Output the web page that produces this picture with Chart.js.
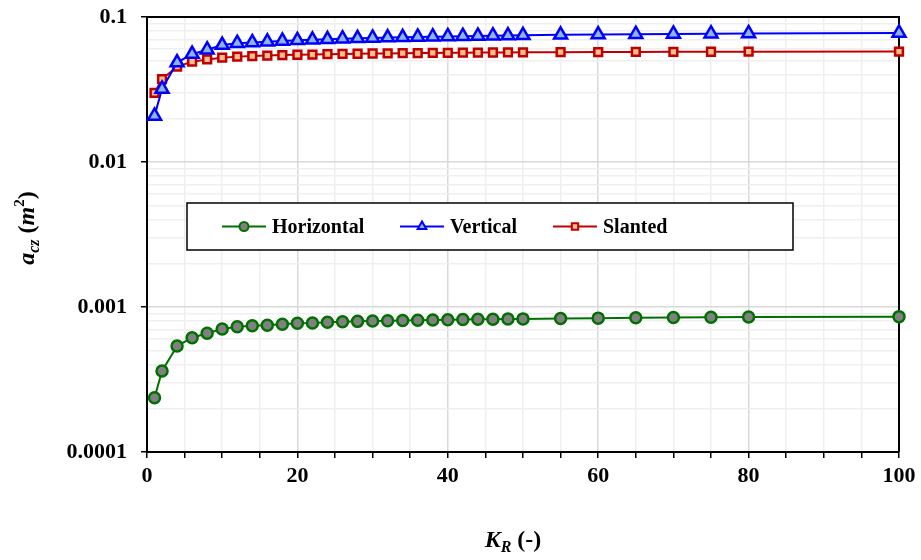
<!DOCTYPE html>
<html>
<head>
<meta charset="utf-8">
<script src="https://cdn.jsdelivr.net/npm/chart.js@4"></script>
<style>
  html, body { margin: 0; padding: 0; background: #fff; }
  canvas { display: block; }
</style>
</head>
<body>
<canvas id="myChart" width="921" height="560"></canvas>
<script>
// K_R values (x axis)
var kr = [1, 2, 4, 6, 8, 10, 12, 14, 16, 18, 20, 22, 24, 26, 28, 30, 32, 34, 36, 38, 40, 42, 44, 46, 48, 50, 55, 60, 65, 70, 75, 80, 100];

// a_cz (m2) for each orientation
var horizontal = [0.000237, 0.000362, 0.000538, 0.000614, 0.000659, 0.000705, 0.000731, 0.000743, 0.000748, 0.00076, 0.000772, 0.000775, 0.000784, 0.00079, 0.000796, 0.0008, 0.000804, 0.000808, 0.000811, 0.000814, 0.000816, 0.000819, 0.000822, 0.000824, 0.000826, 0.000828, 0.000833, 0.000838, 0.000842, 0.000846, 0.000849, 0.000852, 0.000858];
var vertical = [0.0208, 0.0319, 0.0485, 0.0555, 0.0595, 0.064, 0.066, 0.0668, 0.0676, 0.0684, 0.069, 0.0696, 0.0702, 0.0708, 0.0713, 0.0717, 0.0721, 0.0725, 0.0729, 0.0732, 0.0735, 0.0738, 0.0741, 0.0743, 0.0745, 0.0748, 0.0753, 0.0757, 0.0761, 0.0764, 0.0767, 0.077, 0.0777];
var slanted = [0.0300, 0.0373, 0.0454, 0.0492, 0.051, 0.0524, 0.0533, 0.0538, 0.0542, 0.0546, 0.0549, 0.0551, 0.0554, 0.0556, 0.0558, 0.056, 0.0561, 0.0563, 0.0564, 0.0565, 0.0566, 0.0567, 0.0568, 0.0569, 0.057, 0.0571, 0.0572, 0.0573, 0.0574, 0.0575, 0.0576, 0.0577, 0.0578];

var seriesNames = ['Horizontal', 'Vertical', 'Slanted'];

// tick labels
var yDecades = [0.0001, 0.001, 0.01, 0.1];
var yTickLabels = ['0.0001', '0.001', '0.01', '0.1'];
var xTickValues = [0, 20, 40, 60, 80, 100];
var xTickLabels = ['0', '20', '40', '60', '80', '100'];

var SERIF = '"Liberation Serif", "Times New Roman", serif';

function pts(ys) {
    return kr.map(function (x, i) { return { x: x, y: ys[i] }; });
}

function isDecade(v) {
    return yDecades.some(function (d) { return Math.abs(v - d) / d < 1e-6; });
}

// all 1..9 x 10^n values for the log grid
var yGridValues = [];
yDecades.forEach(function (d, i) {
    if (i === yDecades.length - 1) { yGridValues.push(d); return; }
    for (var k = 1; k <= 9; k++) yGridValues.push(+(d * k).toPrecision(6));
});

var frame = {
    id: 'frame',
    beforeDatasetsDraw: function (chart) {
        var a = chart.chartArea, ctx = chart.ctx;
        ctx.save();
        ctx.strokeStyle = '#000';
        ctx.lineWidth = 2;
        ctx.beginPath();
        ctx.moveTo(a.left, a.top);
        ctx.lineTo(a.right, a.top);
        ctx.lineTo(a.right, a.bottom);
        ctx.stroke();
        ctx.restore();
    }
};

function drawMarker(ctx, ds, x, y, r) {
    Chart.helpers.drawPoint(ctx, {
        pointStyle: ds.pointStyle, rotation: 0, radius: r, borderWidth: 2
    }, x, y);
}

var boxLegend = {
    id: 'boxLegend',
    afterDraw: function (chart) {
        var ctx = chart.ctx;
        var bx = 187, by = 203, bw = 606, bh = 47;
        var items = [222, 400, 553];
        ctx.save();
        ctx.fillStyle = '#fff';
        ctx.fillRect(bx, by, bw, bh);
        ctx.strokeStyle = '#000';
        ctx.lineWidth = 1.5;
        ctx.strokeRect(bx, by, bw, bh);
        var cy = by + bh / 2;
        chart.data.datasets.forEach(function (ds, i) {
            var x0 = items[i];
            ctx.strokeStyle = ds.borderColor;
            ctx.lineWidth = 2;
            ctx.beginPath();
            ctx.moveTo(x0, cy);
            ctx.lineTo(x0 + 44, cy);
            ctx.stroke();
            ctx.fillStyle = ds.pointBackgroundColor;
            ctx.strokeStyle = ds.pointBorderColor;
            ctx.lineWidth = 2;
            drawMarker(ctx, ds, x0 + 22, cy, ds.pointStyle === 'triangle' ? 5 : 4.5);
            ctx.fillStyle = '#000';
            ctx.font = 'bold 20px ' + SERIF;
            ctx.textBaseline = 'middle';
            ctx.textAlign = 'left';
            ctx.fillText(ds.label, x0 + 50, cy + 1);
        });
        ctx.restore();
    }
};

function drawRuns(ctx, runs) {
    var x = 0;
    runs.forEach(function (r) {
        ctx.font = r.f;
        ctx.fillText(r.t, x, r.dy || 0);
        x += ctx.measureText(r.t).width;
    });
}
function runsWidth(ctx, runs) {
    var w = 0;
    runs.forEach(function (r) { ctx.font = r.f; w += ctx.measureText(r.t).width; });
    return w;
}

var axisTitles = {
    id: 'axisTitles',
    afterDraw: function (chart) {
        var ctx = chart.ctx;
        var bi = 'bold italic 24px ' + SERIF, b = 'bold 24px ' + SERIF;
        var biS = 'bold italic 16px ' + SERIF, bS = 'bold 15px ' + SERIF;
        ctx.save();
        ctx.fillStyle = '#000';
        ctx.textBaseline = 'alphabetic';
        ctx.textAlign = 'left';

        var xr = [{ t: 'K', f: bi }, { t: 'R', f: biS, dy: 5 }, { t: ' (-)', f: b }];
        var wx = runsWidth(ctx, xr);
        ctx.save();
        ctx.translate(513 - wx / 2, 547);
        drawRuns(ctx, xr);
        ctx.restore();

        var yr = [{ t: 'a', f: bi }, { t: 'cz', f: biS, dy: 5 }, { t: ' (', f: b }, { t: 'm', f: bi }, { t: '2', f: bS, dy: -10 }, { t: ')', f: b }];
        var wy = runsWidth(ctx, yr);
        ctx.save();
        ctx.translate(34, 228 + wy / 2);
        ctx.rotate(-Math.PI / 2);
        drawRuns(ctx, yr);
        ctx.restore();
        ctx.restore();
    }
};

window.onload = function () {
    var ctx = document.getElementById('myChart').getContext('2d');

    var Data = {
        datasets: [
            {
                label: seriesNames[0],
                data: pts(horizontal),
                borderColor: '#007000',
                borderWidth: 2,
                pointStyle: 'circle',
                pointRadius: 5.5,
                pointBackgroundColor: '#808080',
                pointBorderColor: '#007000',
                pointBorderWidth: 2.5
            },
            {
                label: seriesNames[1],
                data: pts(vertical),
                borderColor: '#0000ff',
                borderWidth: 2,
                pointStyle: 'triangle',
                pointRadius: 7.5,
                pointBackgroundColor: '#8eb4e3',
                pointBorderColor: '#0000ff',
                pointBorderWidth: 2.5
            },
            {
                label: seriesNames[2],
                data: pts(slanted),
                borderColor: '#c00000',
                borderWidth: 2,
                pointStyle: 'rect',
                pointRadius: 5.5,
                pointBackgroundColor: '#fabf8f',
                pointBorderColor: '#c00000',
                pointBorderWidth: 2.5
            }
        ]
    };

    window.myChart = new Chart(ctx, {
        type: 'line',
        data: Data,
        plugins: [frame, boxLegend, axisTitles],
        options: {
            responsive: false,
            animation: false,
            devicePixelRatio: 1,
            clip: false,
            layout: { padding: { top: 17, right: 22, left: 0, bottom: 0 } },
            elements: { line: { tension: 0 } },
            plugins: {
                legend: { display: false },
                tooltip: { enabled: false }
            },
            scales: {
                x: {
                    type: 'linear',
                    min: 0,
                    max: 100,
                    afterBuildTicks: function (scale) {
                        var t = [];
                        for (var v = 0; v <= 100; v += 5) t.push({ value: v });
                        scale.ticks = t;
                    },
                    afterFit: function (scale) {
                        scale.height = 108;
                        scale.paddingLeft = 0;
                        scale.paddingRight = 0;
                    },
                    ticks: {
                        autoSkip: false,
                        maxRotation: 0,
                        padding: 5,
                        color: '#000',
                        font: { family: SERIF, size: 22, weight: 'bold' },
                        callback: function (v) {
                            var i = xTickValues.indexOf(v);
                            return i >= 0 ? xTickLabels[i] : '';
                        }
                    },
                    grid: {
                        color: function (c) { return c.tick && c.tick.value % 20 === 0 ? '#d9d9d9' : '#efefef'; },
                        lineWidth: 1.5,
                        tickColor: '#000',
                        tickLength: 6,
                        tickWidth: 1.5
                    },
                    border: { color: '#000', width: 2 }
                },
                y: {
                    type: 'logarithmic',
                    min: 0.0001,
                    max: 0.1,
                    afterBuildTicks: function (scale) {
                        scale.ticks = yGridValues.map(function (v) { return { value: v }; });
                    },
                    afterFit: function (scale) {
                        scale.width = 147;
                        scale.paddingTop = 0;
                        scale.paddingBottom = 0;
                    },
                    ticks: {
                        autoSkip: false,
                        padding: 14,
                        color: '#000',
                        font: { family: SERIF, size: 22, weight: 'bold' },
                        callback: function (v) {
                            for (var i = 0; i < yDecades.length; i++) {
                                if (Math.abs(v - yDecades[i]) / yDecades[i] < 1e-6) return yTickLabels[i];
                            }
                            return '';
                        }
                    },
                    grid: {
                        color: function (c) { return c.tick && isDecade(c.tick.value) ? '#d9d9d9' : '#efefef'; },
                        lineWidth: 1.5,
                        tickColor: function (c) { return c.tick && isDecade(c.tick.value) ? '#000' : 'rgba(0,0,0,0)'; },
                        tickLength: 6,
                        tickWidth: 1.5
                    },
                    border: { color: '#000', width: 2 }
                }
            }
        }
    });
};
</script>
</body>
</html>
